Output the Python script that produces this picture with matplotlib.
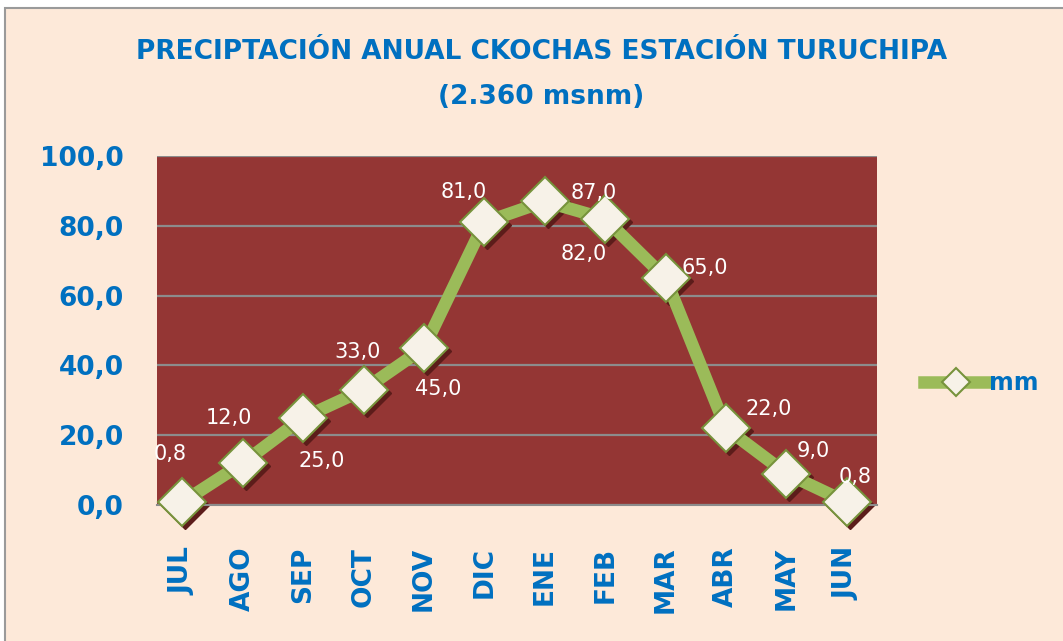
import matplotlib
matplotlib.use("Agg")
import matplotlib.pyplot as plt
import matplotlib.transforms as mtransforms
from matplotlib.patches import Rectangle

# data
months = ["JUL", "AGO", "SEP", "OCT", "NOV", "DIC", "ENE", "FEB", "MAR", "ABR", "MAY", "JUN"]
mm = [0.8, 12.0, 25.0, 33.0, 45.0, 81.0, 87.0, 82.0, 65.0, 22.0, 9.0, 0.8]
yticks = [0, 20, 40, 60, 80, 100]
# label offsets in pixels (dx, dy) from each point
label_offsets = [(-12, 48), (-14, 45), (19, -43), (-6, 38), (14, -41), (-21, 30),
                 (49, 8), (-21, -35), (39, 10), (43, 19), (27, 23), (8, 25)]

blue = "#0070C0"
green = "#9BBB59"
peach = "#FDE9D9"
plot_red = "#943634"

fig = plt.figure(figsize=(10.63, 6.41), dpi=100, facecolor="white")
fig.patches.append(Rectangle((5 / 1063, -0.01), 1.0, 1 - 8 / 641 + 0.01, transform=fig.transFigure,
                             facecolor=peach, edgecolor="#9a9a9a", linewidth=1.5, zorder=-10))

ax = fig.add_axes([157 / 1063, 1 - 505 / 641, 720 / 1063, 349 / 641])
ax.set_facecolor(plot_red)
ax.set_xlim(-0.42, 11.5)
ax.set_ylim(0, 100)

for s in ["top", "right", "left"]:
    ax.spines[s].set_visible(False)
ax.spines["bottom"].set_color("#8c8c8c")
ax.spines["bottom"].set_linewidth(1.5)

ax.set_yticks(yticks)
ax.set_yticklabels([f"{v:.1f}".replace(".", ",") for v in yticks])
ax.yaxis.grid(True, color="#8c8c8c", linewidth=1.6)
ax.set_axisbelow(True)
ax.tick_params(axis="y", length=0, pad=24, labelsize=19, labelcolor=blue)
for t in ax.get_yticklabels():
    t.set_fontweight("bold")

x = list(range(len(months)))
ax.set_xticks(x)
ax.set_xticklabels(months, rotation=90, fontsize=19, fontweight="bold", color=blue)
ax.tick_params(axis="x", length=0, pad=30)

# shadow of markers
shadow = mtransforms.offset_copy(ax.transData, fig=fig, x=3, y=-3, units="dots")
ax.plot(x, mm, linestyle="none", marker="D", markersize=24, color="#5c1c1a",
        transform=shadow, clip_on=False, zorder=2)
ax.plot(x, mm, color=green, linewidth=9, marker="D", markersize=24,
        markerfacecolor="#F7F2E8", markeredgecolor="#77933C", markeredgewidth=1.5,
        clip_on=False, zorder=3, label="mm")

for xi, v, (dx, dy) in zip(x, mm, label_offsets):
    ax.annotate(f"{v:.1f}".replace(".", ","), (xi, v), xytext=(dx, dy),
                textcoords="offset pixels", ha="center", va="center",
                fontsize=15, color="white", zorder=5)

leg = fig.legend(loc="center left", bbox_to_anchor=(903 / 1063, 1 - 383 / 641),
                 frameon=False, handlelength=2.7, handletextpad=0.05, markerscale=0.6,
                 prop={"size": 17, "weight": "bold"})
for t in leg.get_texts():
    t.set_color(blue)

fig.text(0.509, 1 - 52 / 641, "PRECIPTACIÓN ANUAL CKOCHAS ESTACIÓN TURUCHIPA",
         ha="center", va="center", fontsize=19, fontweight="bold", color=blue)
fig.text(0.509, 1 - 97 / 641, "(2.360 msnm)",
         ha="center", va="center", fontsize=19, fontweight="bold", color=blue)

fig.savefig("out.png", dpi=100, facecolor=fig.get_facecolor())
